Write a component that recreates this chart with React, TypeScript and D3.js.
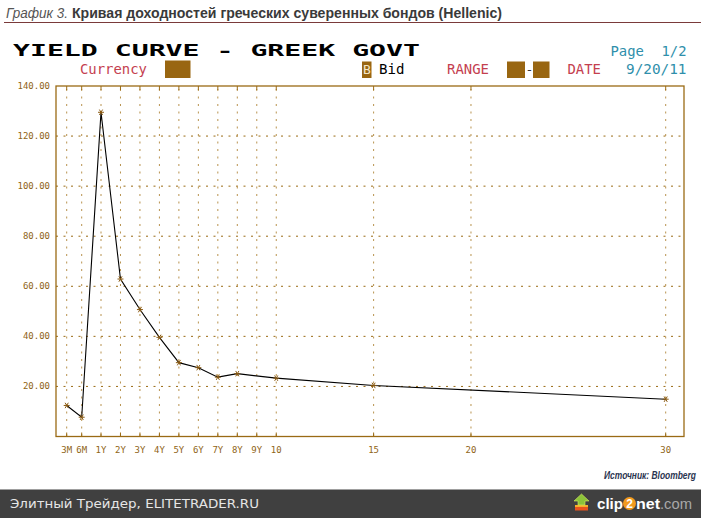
import React from "react";
import * as d3 from "d3";

const tenors = ["3M", "6M", "1Y", "2Y", "3Y", "4Y", "5Y", "6Y", "7Y", "8Y", "9Y", "10", "15", "20", "30"];
const tenorYears = [0.25, 0.5, 1, 2, 3, 4, 5, 6, 7, 8, 9, 10, 15, 20, 30];
const yields: (number | null)[] = [12.4, 7.7, 129.5, 62.9, 50.7, 39.6, 29.5, 27.5, 23.7, 25.1, null, 23.3, 20.4, null, 14.9];
const yTicks = [20, 40, 60, 80, 100, 120, 140];

const W = 701;
const H = 518;
const PL = 56;
const PR = 684;
const PT = 86;
const PB = 436.5;

const BROWN = "#9a6a14";
const BROWN_LIGHT = "#b8924e";
const BROWN_TXT = "#8f6416";
const RED = "#c4404f";
const TEAL = "#2f8fab";
const BOX = "#996611";

export default function App() {
  // Bloomberg places 3M/6M on a compressed segment; beyond 1Y the axis is linear in years
  const x = d3.scaleLinear().domain([0, 0.25, 0.5, 1, 30]).range([PL, 66.7, 81.7, 101, 665.7]);
  const y = d3.scaleLinear().domain([0, 140]).range([PB, PT]);

  const pts = tenorYears
    .map((t, i) => ({ t, v: yields[i] }))
    .filter((d) => d.v !== null) as { t: number; v: number }[];
  const line = d3
    .line<{ t: number; v: number }>()
    .x((d) => x(d.t))
    .y((d) => y(d.v));

  const star = "M-3,0h6M-1.6,-2.7l3.2,5.4M-1.6,2.7l3.2,-5.4";
  const mono = "'DejaVu Sans Mono', monospace";
  const narrow = "'Liberation Sans Narrow', 'Liberation Sans', sans-serif";

  return (
    <svg width={W} height={H} style={{ position: "absolute", left: 0, top: 0, background: "#fff" }}>
      <rect x={0} y={0} width={W} height={H} fill="#fff" />
      {/* Title */}
      <text x={6} y={17.5} fontFamily={narrow} fontStyle="italic" fontSize={15} fill="#555" textLength={62} lengthAdjust="spacingAndGlyphs">
        График 3.
      </text>
      <text x={72} y={17.5} fontFamily={narrow} fontWeight="bold" fontSize={15} fill="#3a3a3a" textLength={430} lengthAdjust="spacingAndGlyphs">
        Кривая доходностей греческих суверенных бондов (Hellenic)
      </text>
      <line x1={4} x2={W} y1={22.5} y2={22.5} stroke="#7a3a3a" strokeWidth={1} />

      {/* Bloomberg header */}
      <text x={13} y={55.5} fontFamily={mono} fontWeight="bold" fontSize={15.5} fill="#000" textLength={407} lengthAdjust="spacingAndGlyphs">
        YIELD CURVE - GREEK GOVT
      </text>
      <text x={610.5} y={56} fontFamily={mono} fontSize={14} fill={TEAL} textLength={33.5} lengthAdjust="spacingAndGlyphs">
        Page
      </text>
      <text x={661.5} y={56} fontFamily={mono} fontSize={14} fill={TEAL} textLength={25} lengthAdjust="spacingAndGlyphs">
        1/2
      </text>
      <text x={80} y={74} fontFamily={mono} fontSize={14} fill={RED} textLength={67} lengthAdjust="spacingAndGlyphs">
        Currency
      </text>
      <rect x={165} y={60.5} width={25.5} height={17.5} fill={BOX} />
      <rect x={362} y={61.5} width={9.5} height={16.5} fill={BOX} />
      <text x={363} y={74} fontFamily={mono} fontSize={13} fill="#f4e6c8">B</text>
      <text x={379} y={74} fontFamily={mono} fontSize={14} fill="#000" textLength={25.5} lengthAdjust="spacingAndGlyphs">Bid</text>
      <text x={447} y={74} fontFamily={mono} fontSize={14} fill={RED} textLength={42} lengthAdjust="spacingAndGlyphs">RANGE</text>
      <rect x={507} y={61.5} width={18} height={16.5} fill={BOX} />
      <text x={525.5} y={74} fontFamily={mono} fontSize={13} fill="#333">-</text>
      <rect x={533} y={61.5} width={16.5} height={16.5} fill={BOX} />
      <text x={567.5} y={74} fontFamily={mono} fontSize={14} fill={RED} textLength={33.5} lengthAdjust="spacingAndGlyphs">DATE</text>
      <text x={626} y={74} fontFamily={mono} fontSize={14} fill={TEAL} textLength={60.5} lengthAdjust="spacingAndGlyphs">9/20/11</text>

      {/* grid */}
      {yTicks
        .filter((v) => v < 140)
        .map((v) => (
          <line key={"h" + v} x1={PL} x2={PR} y1={y(v)} y2={y(v)} stroke={BROWN} strokeWidth={1} strokeDasharray="2,5.5" />
        ))}
      {tenorYears.map((t) => (
        <line key={"v" + t} x1={x(t)} x2={x(t)} y1={PT} y2={PB} stroke={BROWN_LIGHT} strokeWidth={1} strokeDasharray="2,5.5" strokeDashoffset={-3} />
      ))}
      {/* ticks */}
      {tenorYears.map((t) => (
        <g key={"tk" + t}>
          <line x1={x(t)} x2={x(t)} y1={PT} y2={PT + 4} stroke={BROWN} strokeWidth={1} />
          <line x1={x(t)} x2={x(t)} y1={PB} y2={PB - 4} stroke={BROWN} strokeWidth={1} />
        </g>
      ))}
      <rect x={PL} y={PT} width={PR - PL} height={PB - PT} fill="none" stroke={BROWN} strokeWidth={1.3} />

      {/* y labels */}
      {yTicks.map((v) => (
        <text key={"yl" + v} x={50} y={y(v) + 3} textAnchor="end" fontFamily={mono} fontSize={9} fill={BROWN_TXT}>
          {d3.format(".2f")(v)}
        </text>
      ))}
      {/* x labels */}
      {tenors.map((s, i) => (
        <text key={"xl" + s} x={x(tenorYears[i])} y={453} textAnchor="middle" fontFamily={mono} fontSize={9} fill={BROWN_TXT}>
          {s}
        </text>
      ))}

      {/* series */}
      <path d={line(pts) || ""} fill="none" stroke="#000" strokeWidth={1.1} />
      {pts.map((d) => (
        <path key={"m" + d.t} d={star} transform={`translate(${x(d.t)},${y(d.v)})`} stroke="#8a5a12" strokeWidth={1} fill="none" />
      ))}

      {/* source */}
      <g transform="translate(604,479) scale(0.8,1)">
        <text x={0} y={0} fontFamily={narrow} fontStyle="italic" fontWeight="bold" fontSize={10.5} fill="#2b3550" textLength={115} lengthAdjust="spacingAndGlyphs">
          Источник: Bloomberg
        </text>
      </g>

      {/* footer */}
      <rect x={0} y={489.5} width={W} height={H - 489.5} fill="#404040" />
      <text x={10} y={508} fontFamily="'DejaVu Sans', sans-serif" fontSize={12} fill="#e6e6e6" textLength={249} lengthAdjust="spacingAndGlyphs">
        Элитный Трейдер, ELITETRADER.RU
      </text>
      {/* clip2net logo */}
      <rect x={575} y={505} width={13} height={5.5} fill="#e8541e" />
      <rect x={575} y={505} width={13} height={2} fill="#f6b02a" />
      <path d="M581.5,494 L589,501 L585,501 L585,505 L578,505 L578,501 L574,501 Z" fill="#8cc43a" stroke="#d8ec60" strokeWidth={0.6} />
      <text x={597} y={508.5} fontFamily="'Liberation Sans', sans-serif" fontWeight="bold" fontSize={14} fill="#fff" textLength={26} lengthAdjust="spacingAndGlyphs">clip</text>
      <circle cx={629.5} cy={503.5} r={6.5} fill="#f29a1e" />
      <text x={629.5} y={508} textAnchor="middle" fontFamily="'Liberation Sans', sans-serif" fontWeight="bold" fontSize={12} fill="#fff">2</text>
      <text x={636} y={508.5} fontFamily="'Liberation Sans', sans-serif" fontWeight="bold" fontSize={14} fill="#fff" textLength={24} lengthAdjust="spacingAndGlyphs">net</text>
      <text x={660} y={508.5} fontFamily="'Liberation Sans', sans-serif" fontSize={14} fill="#a8a8a8" textLength={32} lengthAdjust="spacingAndGlyphs">.com</text>
    </svg>
  );
}
